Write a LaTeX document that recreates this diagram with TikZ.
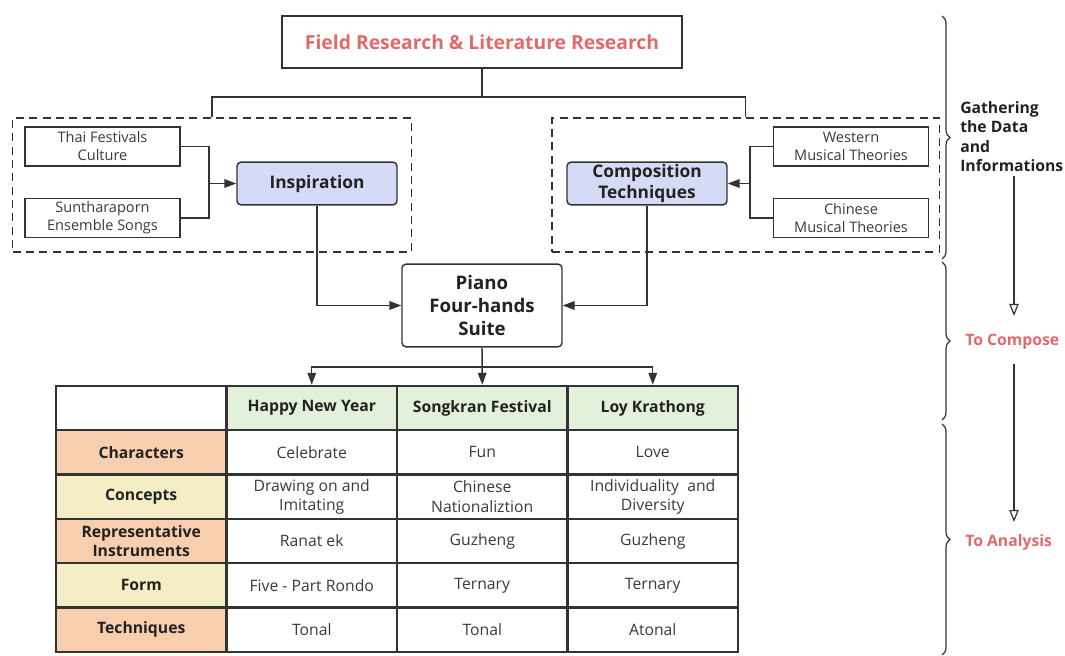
\documentclass[tikz,border=0pt]{standalone}
\usepackage{fontspec}
\setmainfont{Open Sans}
\usepackage{tikz}
\usetikzlibrary{positioning,arrows.meta,calc,decorations.pathreplacing}
\usepackage{xcolor}
\definecolor{lineGray}{HTML}{333333}
\definecolor{textGray}{HTML}{3A3A3A}
\definecolor{inkBlack}{HTML}{222222}
\definecolor{titleRed}{HTML}{E06A6A}
\definecolor{coreTint}{HTML}{D5DAF6}
\definecolor{headGreen}{HTML}{E3F1DA}
\definecolor{rowPeach}{HTML}{F8CFAE}
\definecolor{rowCream}{HTML}{F4EDC5}

\begin{document}
\begin{tikzpicture}[x=0.75pt,y=-0.75pt,
      frame/.style={draw=lineGray,line width=1.1pt,minimum width=300pt,minimum height=39pt,
                  font=\fontsize{14.5}{17}\selectfont\bfseries,text=titleRed},
      srcbox/.style={draw=lineGray,line width=1.1pt,minimum width=116pt,minimum height=29pt,
                  align=center,inner sep=1pt,font=\fontsize{10.9}{13.5}\selectfont,text=textGray},
      core/.style={draw=lineGray,line width=1.1pt,rounded corners=3pt,fill=coreTint,
                  minimum width=120pt,minimum height=32pt,align=center,inner sep=1pt,
                  font=\fontsize{13}{15.5}\selectfont\bfseries,text=inkBlack},
      zone/.style={draw=lineGray,line width=1.1pt,dash pattern=on 6pt off 4pt,
                  minimum width=#1,minimum height=100.5pt},
      suite/.style={draw=lineGray,line width=1.1pt,rounded corners=3pt,fill=white,
                  minimum width=120pt,minimum height=62pt,align=center,inner sep=1pt,
                  font=\fontsize{14}{17.5}\selectfont\bfseries,text=inkBlack},
      cell/.style={draw=lineGray,line width=1.6pt,minimum width=127.9pt,minimum height=33.25pt,
                  align=center,inner sep=1pt,font=\fontsize{11.8}{14.5}\selectfont,text=textGray},
      headcell/.style={cell,fill=headGreen,font=\fontsize{11.8}{14.5}\selectfont\bfseries,text=inkBlack},
      peachcell/.style={cell,fill=rowPeach,font=\fontsize{11.8}{14.5}\selectfont\bfseries,text=inkBlack},
      creamcell/.style={cell,fill=rowCream,font=\fontsize{11.8}{14.5}\selectfont\bfseries,text=inkBlack},
      stage/.style={inner sep=0pt,anchor=west,align=left,font=\fontsize{11.8}{14.5}\selectfont\bfseries},
      link/.style={line width=1.1pt,lineGray},
      arr/.style={link,-{Triangle[length=9pt,width=6.5pt]}},
      openarr/.style={line width=0.9pt,lineGray,-{Triangle[open,length=9pt,width=7pt,fill=white]}},
      bracket/.style={decorate,decoration={brace,amplitude=6pt},line width=0.9pt,lineGray}]
    \useasboundingbox (0,0) rectangle (1065,656);

    % top of the diagram
    \node[frame] (frame) at (482,42) {Field Research \& Literature Research};
    \node[zone=299pt] (leftzone) at (212,185) {};
    \node[zone=290.6pt] (rightzone) at (745.75,185) {};
    \coordinate (split) at (482,97);
    \draw[link] (frame.south) -- (split);
    \draw[link] (leftzone.north) |- (split) -| (rightzone.north);

    \node[srcbox] (thai)  at (102.5,146.5) {Thai Festivals\\Culture};
    \node[srcbox] (sunth) at (102.5,218)   {Suntharaporn\\Ensemble Songs};
    \node[core]   (insp)  at (317,183.5)   {Inspiration};
    \coordinate (ljoin) at (209,183.5);
    \draw[link] (thai.east) -| (ljoin);
    \draw[link] (sunth.east) -| (ljoin);
    \draw[arr] (ljoin) -- (insp.west);

    \node[srcbox] (west)  at (851,146.5) {Western\\Musical Theories};
    \node[srcbox] (china) at (851,218)   {Chinese\\Musical Theories};
    \node[core]   (comp)  at (647,183.5) {Composition\\Techniques};
    \coordinate (rjoin) at (750,183.5);
    \draw[link] (west.west) -| (rjoin);
    \draw[link] (china.west) -| (rjoin);
    \draw[arr] (rjoin) -- (comp.east);

    \node[suite] (suite) at (482,305.5) {Piano\\Four-hands\\Suite};
    \draw[arr] (insp.south) |- (suite.west);
    \draw[arr] (comp.south) |- (suite.east);

    % table
    \node[cell]      (corner) at (141.25,408) {};
    \node[headcell]  (hny)    at (311.75,408) {Happy New Year};
    \node[headcell]  (sk)     at (482.25,408) {Songkran Festival};
    \node[headcell]  (lk)     at (652.75,408) {Loy Krathong};

    \node[peachcell] (chr)    at (141.25,452.3) {Characters};
    \node[cell]               at (311.75,452.3) {Celebrate};
    \node[cell]               at (482.25,452.3) {Fun};
    \node[cell]               at (652.75,452.3) {Love};

    \node[creamcell] (cpt)    at (141.25,496.7) {Concepts};
    \node[cell]               at (311.75,496.7) {Drawing on and\\Imitating};
    \node[cell]               at (482.25,496.7) {Chinese\\Nationaliztion};
    \node[cell]               at (652.75,496.7) {Individuality\ \ and\\Diversity};

    \node[peachcell] (ins)    at (141.25,541) {Representative\\Instruments};
    \node[cell]               at (311.75,541) {Ranat ek};
    \node[cell]               at (482.25,541) {Guzheng};
    \node[cell]               at (652.75,541) {Guzheng};

    \node[creamcell] (frm)    at (141.25,585.3) {Form};
    \node[cell]               at (311.75,585.3) {Five - Part Rondo};
    \node[cell]               at (482.25,585.3) {Ternary};
    \node[cell]               at (652.75,585.3) {Ternary};

    \node[peachcell] (tech)   at (141.25,629.7) {Techniques};
    \node[cell]               at (311.75,629.7) {Tonal};
    \node[cell]               at (482.25,629.7) {Tonal};
    \node[cell]               at (652.75,629.7) {Atonal};

    \coordinate (fork) at (482,367);
    \draw[arr] (suite.south) -- (sk.north);
    \draw[arr] (fork) -| (hny.north);
    \draw[arr] (fork) -| (lk.north);

    % stages on the right
    \coordinate (b1top) at (942,16);
    \coordinate (b1bot) at (942,259);
    \coordinate (b2top) at (942,262);
    \coordinate (b2bot) at (942,420);
    \coordinate (b3top) at (942,424);
    \coordinate (b3bot) at (942,655);
    \draw[bracket] (b1top) -- (b1bot);
    \draw[bracket] (b2top) -- (b2bot);
    \draw[bracket] (b3top) -- (b3bot);

    \node[stage,text=inkBlack] (gather)   at (960,136.5) {Gathering\\the Data\\and\\Informations};
    \node[stage,text=titleRed] (compose)  at (965,342)   {To Compose};
    \node[stage,text=titleRed] (analysis) at (965,542)   {To Analysis};
    \coordinate (stagex) at (1014,0);
    \coordinate (step1a) at (1014,176);
    \coordinate (step1b) at (1014,316);
    \coordinate (step2a) at (1014,364);
    \coordinate (step2b) at (1014,522);
    \draw[openarr] (step1a) -- (step1b);
    \draw[openarr] (step2a) -- (step2b);
\end{tikzpicture}
\end{document}
